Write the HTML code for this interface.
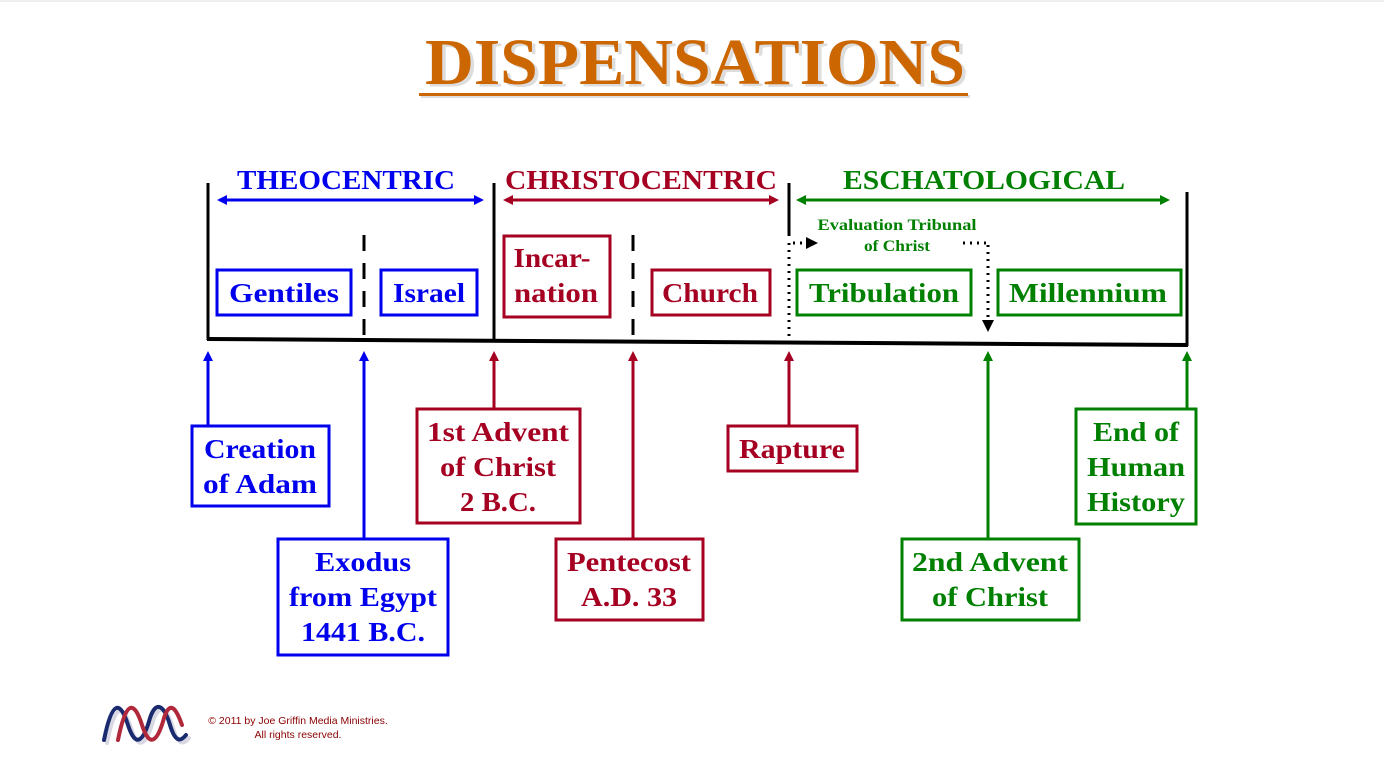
<!DOCTYPE html>
<html><head><meta charset="utf-8"><style>
html,body{margin:0;padding:0;background:#fff;}
svg{display:block;}
text{font-family:"Liberation Serif",serif;font-weight:bold;}
.b{fill:#0000EE}.r{fill:#A50021}.g{fill:#008000}
.t{letter-spacing:1.8px}
</style></head><body>
<svg width="1384" height="781" viewBox="0 0 1384 781" xmlns="http://www.w3.org/2000/svg">
<defs>
<marker id="ab" markerWidth="10" markerHeight="10" refX="5" refY="5" orient="auto-start-reverse" markerUnits="userSpaceOnUse"><path d="M0,0 L10,5 L0,10 z" fill="#0000EE"/></marker>
<marker id="ar" markerWidth="10" markerHeight="10" refX="5" refY="5" orient="auto-start-reverse" markerUnits="userSpaceOnUse"><path d="M0,0 L10,5 L0,10 z" fill="#A50021"/></marker>
<marker id="ag" markerWidth="10" markerHeight="10" refX="5" refY="5" orient="auto-start-reverse" markerUnits="userSpaceOnUse"><path d="M0,0 L10,5 L0,10 z" fill="#008000"/></marker>
<marker id="ak" markerWidth="12" markerHeight="12" refX="6" refY="6" orient="auto" markerUnits="userSpaceOnUse"><path d="M0,0 L12,6 L0,12 z" fill="#000"/></marker>
</defs>
<line x1="0" y1="1" x2="1384" y2="1" stroke="#ddd"/>
<!-- title -->
<text x="697" y="85" text-anchor="middle" font-size="66" fill="#ddd" textLength="540" lengthAdjust="spacingAndGlyphs" transform="translate(1.5,1.5)">DISPENSATIONS</text>
<text x="695" y="84" text-anchor="middle" font-size="66" fill="#CC6600" textLength="540" lengthAdjust="spacingAndGlyphs">DISPENSATIONS</text>
<rect x="421" y="95" width="549" height="3" fill="#ddd"/>
<rect x="419" y="93" width="549" height="3" fill="#CC6600"/>
<!-- headings -->
<text x="346" y="189" text-anchor="middle" font-size="27" class="b" textLength="218" lengthAdjust="spacingAndGlyphs">THEOCENTRIC</text>
<text x="641" y="189" text-anchor="middle" font-size="27" class="r" textLength="272" lengthAdjust="spacingAndGlyphs">CHRISTOCENTRIC</text>
<text x="984" y="189" text-anchor="middle" font-size="27" class="g" textLength="282" lengthAdjust="spacingAndGlyphs">ESCHATOLOGICAL</text>
<line x1="222" y1="200" x2="479" y2="200" stroke="#0000EE" stroke-width="3" marker-start="url(#ab)" marker-end="url(#ab)"/>
<line x1="508" y1="200" x2="774" y2="200" stroke="#A50021" stroke-width="3" marker-start="url(#ar)" marker-end="url(#ar)"/>
<line x1="801" y1="200" x2="1165" y2="200" stroke="#008000" stroke-width="3" marker-start="url(#ag)" marker-end="url(#ag)"/>
<!-- timeline -->
<line x1="207" y1="339" x2="1188" y2="345" stroke="#000" stroke-width="4"/>
<line x1="208" y1="183" x2="208" y2="340" stroke="#000" stroke-width="3"/>
<line x1="494" y1="183" x2="494" y2="341" stroke="#000" stroke-width="3"/>
<line x1="789" y1="183" x2="789" y2="236" stroke="#000" stroke-width="3"/>
<line x1="1187" y1="192" x2="1187" y2="346" stroke="#000" stroke-width="3"/>
<line x1="364" y1="235" x2="364" y2="337" stroke="#000" stroke-width="3" stroke-dasharray="16,12"/>
<line x1="633" y1="235" x2="633" y2="338" stroke="#000" stroke-width="3" stroke-dasharray="16,12"/>
<!-- dotted -->
<line x1="789" y1="243" x2="789" y2="340" stroke="#000" stroke-width="3" stroke-dasharray="2,5"/>
<line x1="793" y1="243" x2="812" y2="243" stroke="#000" stroke-width="3" stroke-dasharray="2,5" marker-end="url(#ak)"/>
<line x1="963" y1="243" x2="988" y2="243" stroke="#000" stroke-width="3" stroke-dasharray="2,5"/>
<line x1="988" y1="245" x2="988" y2="326" stroke="#000" stroke-width="3" stroke-dasharray="2,5" marker-end="url(#ak)"/>
<text x="897" y="230" text-anchor="middle" font-size="16" class="g" textLength="159" lengthAdjust="spacingAndGlyphs">Evaluation Tribunal</text>
<text x="897" y="251" text-anchor="middle" font-size="16" class="g" textLength="66" lengthAdjust="spacingAndGlyphs">of Christ</text>
<!-- period boxes -->
<g fill="none" stroke-width="3">
<rect x="217" y="270" width="134" height="45" stroke="#0000EE"/>
<rect x="381" y="270" width="96" height="45" stroke="#0000EE"/>
<rect x="504" y="236" width="106" height="81" stroke="#A50021"/>
<rect x="652" y="270" width="118" height="45" stroke="#A50021"/>
<rect x="797" y="270" width="174" height="45" stroke="#008000"/>
<rect x="998" y="270" width="183" height="45" stroke="#008000"/>
</g>
<g font-size="27" text-anchor="middle" lengthAdjust="spacingAndGlyphs">
<text x="284" y="302" class="b" textLength="110" lengthAdjust="spacingAndGlyphs">Gentiles</text>
<text x="429" y="302" class="b" textLength="72" lengthAdjust="spacingAndGlyphs">Israel</text>
<text x="552" y="267" class="r" textLength="77" lengthAdjust="spacingAndGlyphs">Incar-</text>
<text x="556" y="302" class="r" textLength="84" lengthAdjust="spacingAndGlyphs">nation</text>
<text x="710" y="302" class="r" textLength="96" lengthAdjust="spacingAndGlyphs">Church</text>
<text x="884" y="302" class="g" textLength="150" lengthAdjust="spacingAndGlyphs">Tribulation</text>
<text x="1088" y="302" class="g" textLength="158" lengthAdjust="spacingAndGlyphs">Millennium</text>
</g>
<!-- up arrows -->
<g stroke-width="3">
<line x1="208" y1="425" x2="208" y2="356" stroke="#0000EE" marker-end="url(#ab)"/>
<line x1="364" y1="538" x2="364" y2="356" stroke="#0000EE" marker-end="url(#ab)"/>
<line x1="494" y1="408" x2="494" y2="356" stroke="#A50021" marker-end="url(#ar)"/>
<line x1="633" y1="538" x2="633" y2="356" stroke="#A50021" marker-end="url(#ar)"/>
<line x1="789" y1="425" x2="789" y2="356" stroke="#A50021" marker-end="url(#ar)"/>
<line x1="988" y1="538" x2="988" y2="356" stroke="#008000" marker-end="url(#ag)"/>
<line x1="1187" y1="408" x2="1187" y2="356" stroke="#008000" marker-end="url(#ag)"/>
</g>
<!-- event boxes -->
<g fill="none" stroke-width="3">
<rect x="192" y="426" width="137" height="80" stroke="#0000EE"/>
<rect x="278" y="539" width="170" height="116" stroke="#0000EE"/>
<rect x="417" y="409" width="163" height="114" stroke="#A50021"/>
<rect x="556" y="539" width="147" height="81" stroke="#A50021"/>
<rect x="728" y="426" width="129" height="45" stroke="#A50021"/>
<rect x="902" y="539" width="177" height="81" stroke="#008000"/>
<rect x="1076" y="409" width="120" height="115" stroke="#008000"/>
</g>
<g font-size="27" text-anchor="middle">
<text x="260" y="458" class="b" textLength="112" lengthAdjust="spacingAndGlyphs">Creation</text>
<text x="260" y="493" class="b" textLength="114" lengthAdjust="spacingAndGlyphs">of Adam</text>
<text x="363" y="571" class="b" textLength="96" lengthAdjust="spacingAndGlyphs">Exodus</text>
<text x="363" y="606" class="b" textLength="148" lengthAdjust="spacingAndGlyphs">from Egypt</text>
<text x="363" y="641" class="b" textLength="124" lengthAdjust="spacingAndGlyphs">1441 B.C.</text>
<text x="498" y="441" class="r" textLength="142" lengthAdjust="spacingAndGlyphs">1st Advent</text>
<text x="498" y="476" class="r" textLength="116" lengthAdjust="spacingAndGlyphs">of Christ</text>
<text x="498" y="511" class="r" textLength="76" lengthAdjust="spacingAndGlyphs">2 B.C.</text>
<text x="629" y="571" class="r" textLength="124" lengthAdjust="spacingAndGlyphs">Pentecost</text>
<text x="629" y="606" class="r" textLength="96" lengthAdjust="spacingAndGlyphs">A.D. 33</text>
<text x="792" y="458" class="r" textLength="106" lengthAdjust="spacingAndGlyphs">Rapture</text>
<text x="990" y="571" class="g" textLength="156" lengthAdjust="spacingAndGlyphs">2nd Advent</text>
<text x="990" y="606" class="g" textLength="116" lengthAdjust="spacingAndGlyphs">of Christ</text>
<text x="1136" y="441" class="g" textLength="86" lengthAdjust="spacingAndGlyphs">End of</text>
<text x="1136" y="476" class="g" textLength="98" lengthAdjust="spacingAndGlyphs">Human</text>
<text x="1136" y="511" class="g" textLength="98" lengthAdjust="spacingAndGlyphs">History</text>
</g>
<!-- logo -->
<g fill="none" stroke-width="4" stroke-linecap="round">
<path d="M104,740 C112,700 120,700 128,725 C136,750 144,740 150,718 C156,700 164,705 170,725 C176,745 182,740 186,735" stroke="#d8d8e4" transform="translate(3,3)"/>
<path d="M104,740 C112,700 120,700 128,725 C136,750 144,740 150,718 C156,700 164,705 170,725 C176,745 182,740 186,735" stroke="#1a2a6e"/>
<path d="M118,740 C126,700 134,700 142,725 C150,750 158,740 164,718 C170,700 176,708 182,725" stroke="#b0283a"/>
</g>
<text x="298" y="724" text-anchor="middle" font-size="10.5" fill="#8B0000" style="font-family:'Liberation Sans',sans-serif;font-weight:normal">© 2011 by Joe Griffin Media Ministries.</text>
<text x="298" y="738" text-anchor="middle" font-size="10.5" fill="#8B0000" style="font-family:'Liberation Sans',sans-serif;font-weight:normal">All rights reserved.</text>
</svg>
</body></html>
